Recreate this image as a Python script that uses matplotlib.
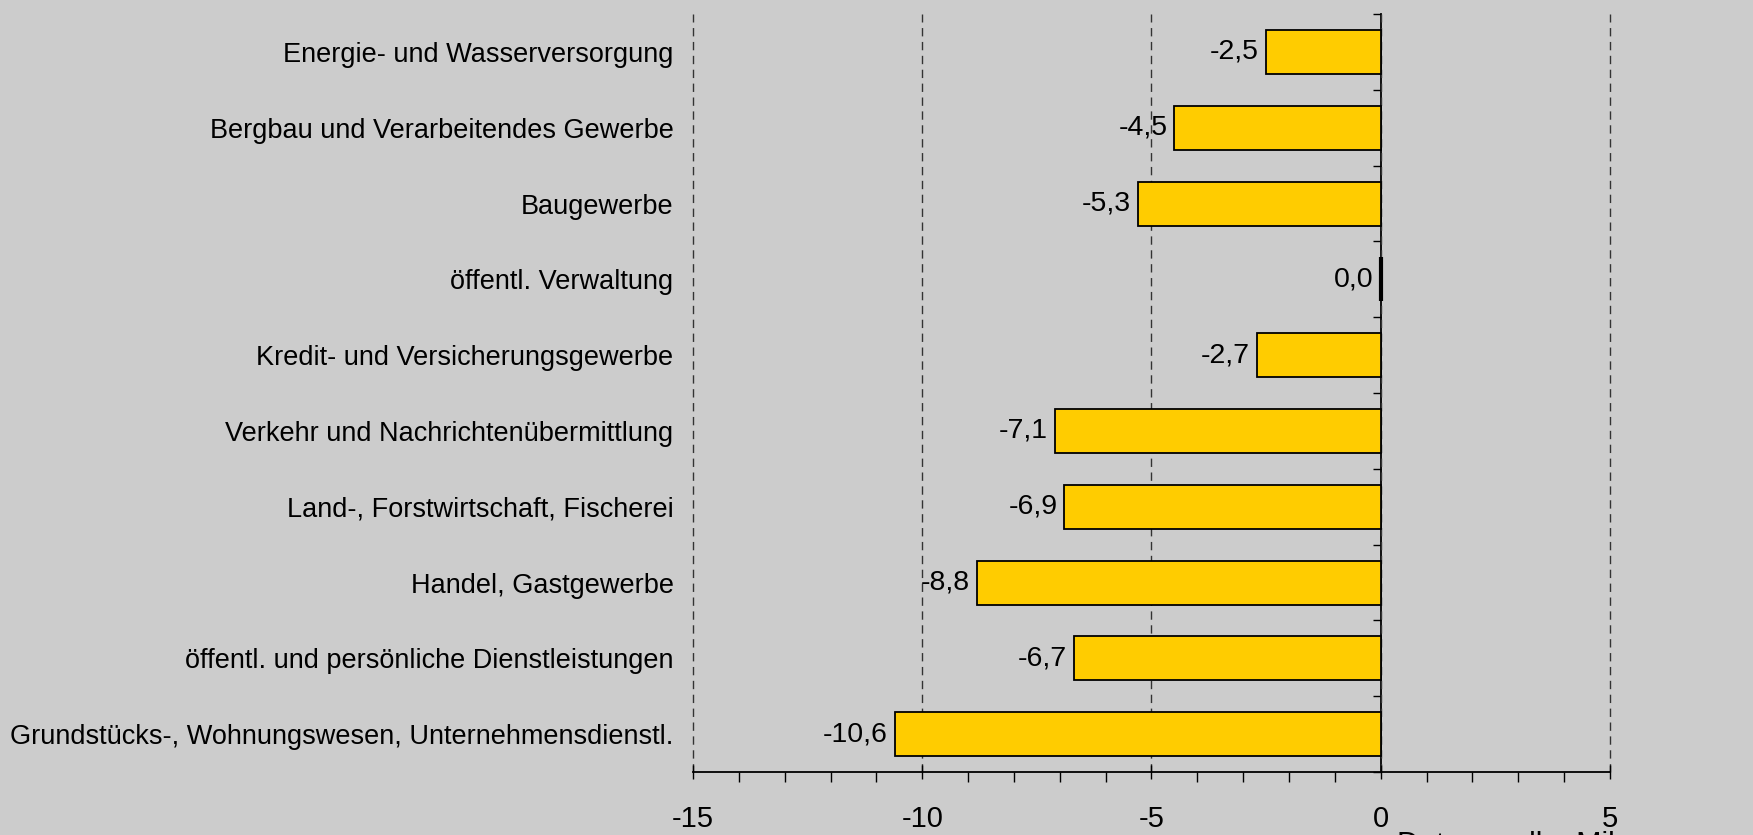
import numpy as np
import matplotlib.pyplot as plt

plt.rcParams['font.family'] = ['Liberation Sans', 'DejaVu Sans']
plt.rcParams['axes.unicode_minus'] = False

# Werte je Wirtschaftsbereich (von oben nach unten)
branchen = [
    "Energie- und Wasserversorgung",
    "Bergbau und Verarbeitendes Gewerbe",
    "Baugewerbe",
    "öffentl. Verwaltung",
    "Kredit- und Versicherungsgewerbe",
    "Verkehr und Nachrichtenübermittlung",
    "Land-, Forstwirtschaft, Fischerei",
    "Handel, Gastgewerbe",
    "öffentl. und persönliche Dienstleistungen",
    "Grundstücks-, Wohnungswesen, Unternehmensdienstl.",
]
werte = [-2.5, -4.5, -5.3, 0.0, -2.7, -7.1, -6.9, -8.8, -6.7, -10.6]
x_ticks = [-15, -10, -5, 0, 5]

bg = '#cccccc'
fig = plt.figure(figsize=(17.53, 8.35), dpi=100, facecolor=bg)
ax = fig.add_axes([0.3953, 0.0754, 0.5231, 0.9078])
ax.set_facecolor(bg)

y = np.arange(len(branchen))
# Nullwert als dicker Strich wie im Original
lw = [3 if v == 0 else 1.3 for v in werte]
ax.barh(y, werte, height=0.58, color='#ffcc00', edgecolor='black', linewidth=lw, zorder=3)

for yi, v in zip(y, werte):
    ax.annotate(f"{v:.1f}".replace('.', ','), xy=(v, yi), xytext=(-5, 0),
                textcoords='offset points', ha='right', va='center', fontsize=20.5)

ax.set_xlim(x_ticks[0], x_ticks[-1])
ax.set_ylim(len(branchen) - 0.5, -0.5)

ax.set_yticks(y, branchen, fontsize=19.5)
ax.tick_params(axis='y', length=0, pad=14)

ax.set_xticks(x_ticks)
ax.set_xticks(np.arange(x_ticks[0], x_ticks[-1] + 1), minor=True)
ax.tick_params(axis='x', which='major', direction='inout', length=10, width=1,
               labelsize=21, pad=19)
ax.tick_params(axis='x', which='minor', direction='out', length=7, width=1)

ax.grid(axis='x', which='major', linestyle=(0, (6, 4)), color='#333333', linewidth=1)
ax.set_axisbelow(True)
for gl in ax.get_xgridlines():
    gl.set_clip_on(False)

for s in ['top', 'right', 'left']:
    ax.spines[s].set_visible(False)
ax.spines['bottom'].set_linewidth(1.3)

# Nulllinie mit Trennstrichen zwischen den Kategorien
sec = ax.secondary_yaxis(0, transform=ax.transData)
sec.set_yticks(np.arange(-0.5, len(branchen), 1))
sec.set_yticklabels([])
sec.tick_params(direction='out', length=6, width=1)
sec.spines['left'].set_linewidth(1.3)

fig.text(1397 / 1753, 1 - 831 / 835, "Datenquelle: Mil", va='top', ha='left', fontsize=22)

fig.savefig('out.png', dpi=100, facecolor=bg)
